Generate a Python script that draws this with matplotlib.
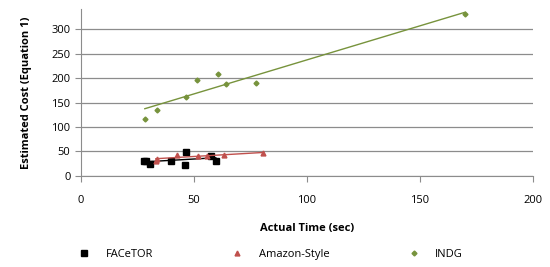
import numpy as np
import matplotlib
matplotlib.use("Agg")
import matplotlib.pyplot as plt

plt.rcParams['font.family'] = ['Open Sans', 'DejaVu Sans']

# data
facetor_x = [27.9, 28.6, 30.8, 39.7, 46.5, 46.0, 57.4, 59.7]
facetor_y = [30.6, 30.6, 24.5, 30.6, 49.0, 22.4, 41.4, 31.0]
amazon_x = [33.2, 33.5, 42.6, 51.9, 55.6, 63.3, 80.4]
amazon_y = [31.0, 34.7, 42.9, 41.4, 41.4, 43.5, 46.3]
indg_x = [28.3, 33.6, 46.6, 51.6, 60.8, 64.2, 77.3, 170.0]
indg_y = [116, 134, 162, 197, 208, 188, 190, 330]

series = [
    ("FACeTOR", facetor_x, facetor_y, "s", "black", 4),
    ("Amazon-Style", amazon_x, amazon_y, "^", "#C0504D", 3.5),
    ("INDG", indg_x, indg_y, "D", "#77933C", 2.5),
]

fig = plt.figure(figsize=(5.5, 2.67), dpi=100)
ax = fig.add_axes([0.147, 0.341, 0.822, 0.625])

handles = []
for name, xs, ys, mk, col, ms in series:
    xs = np.array(xs)
    ys = np.array(ys)
    h, = ax.plot(xs, ys, linestyle="none", marker=mk, color=col, markersize=ms, label=name)
    handles.append(h)
    # linear trendline
    k, b = np.polyfit(xs, ys, 1)
    tx = np.array([xs.min(), xs.max()])
    ax.plot(tx, k * tx + b, color=col, linewidth=1.0)

ax.set_xlim(0, 200)
ax.set_ylim(0, 341)
ax.set_xticks([0, 50, 100, 150, 200])
ax.set_yticks([0, 50, 100, 150, 200, 250, 300])
ax.yaxis.grid(True, color="#8c8c8c", linewidth=0.9)
ax.set_axisbelow(True)
for s in ["top", "right"]:
    ax.spines[s].set_visible(False)
for s in ["left", "bottom"]:
    ax.spines[s].set_color("#8c8c8c")
ax.tick_params(axis="both", colors="#8c8c8c", labelcolor="black", labelsize=8, length=4)
ax.tick_params(axis="x", pad=10)

ax.set_xlabel("Actual Time (sec)", fontsize=8, fontweight="bold", labelpad=12)
ax.set_ylabel("Estimated Cost (Equation 1)", fontsize=8, fontweight="bold", labelpad=14)

fig.legend(handles=handles, loc="lower center", bbox_to_anchor=(0.49, -0.01), ncol=3,
           frameon=False, fontsize=8, columnspacing=6.8, handletextpad=1.2, handlelength=1.5)

fig.savefig("out.png", dpi=100)
